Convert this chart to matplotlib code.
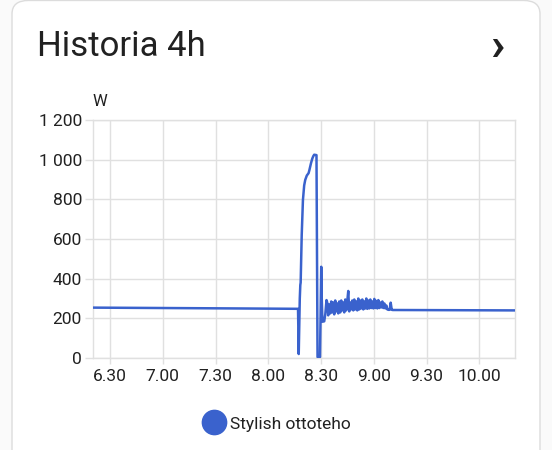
import numpy as np
import matplotlib
matplotlib.use("Agg")
import matplotlib.pyplot as plt
from matplotlib.patches import FancyBboxPatch
from matplotlib.lines import Line2D

# ---- data (time in minutes after 6:00, power in W) ----
main_t = [20.3, 60.0, 100.0, 136.9, 137.3, 137.9, 138.2, 138.4, 139.0, 139.7,
          140.4, 141.0, 141.9, 142.9, 143.3, 144.3, 145.0, 145.6, 146.1, 147.4,
          148.0, 149.4, 149.7, 150.1, 150.4, 150.8, 151.8, 152.4, 153.1]
main_w = [254, 252, 250, 248, 20, 300, 368, 380, 620, 797,
          870, 898, 920, 932, 945, 983, 1005, 1018, 1025, 1023,
          5, 5, 200, 460, 300, 183, 185, 220, 292]

noise_start = 153.5
noise_step = 0.57
noise_w = [280, 215, 270, 225, 285, 230, 280, 220, 290, 235,
           275, 225, 285, 230, 290, 240, 280, 230, 295, 240,
           285, 338, 235, 280, 245, 290, 240, 295, 245, 285,
           240, 300, 245, 290, 250, 295, 245, 285, 250, 300,
           248, 290, 250, 295, 252, 285, 250, 298, 252, 288,
           250, 292, 252, 280, 255, 285, 252, 275, 250, 265,
           245, 243]

tail_t = [189.0, 189.6, 190.2, 190.8, 260.0]
tail_w = [243, 279, 243, 242, 240]

x_ticks = [30, 60, 90, 120, 150, 180, 210, 240]
x_labels = ["6.30", "7.00", "7.30", "8.00", "8.30", "9.00", "9.30", "10.00"]
y_ticks = [0, 200, 400, 600, 800, 1000, 1200]
y_labels = ["0", "200", "400", "600", "800", "1 000", "1 200"]

title = "Historia 4h"
unit = "W"
series_name = "Stylish ottoteho"

# ---- build series ----
noise_t = noise_start + noise_step * np.arange(len(noise_w))
t = np.concatenate([main_t, noise_t, tail_t])
w = np.concatenate([main_w, noise_w, tail_w])

plt.rcParams['font.family'] = ['Roboto', 'DejaVu Sans']
LINE = '#3a62cd'
TXT = '#212121'
GRID = '#e0e0e0'

fig = plt.figure(figsize=(5.52, 4.5), dpi=100)
fig.patch.set_facecolor('#fafafa')

card = FancyBboxPatch((12 / 552, -0.1), (540 - 12) / 552, 1.1 - 0.001,
                      boxstyle="round,pad=0,rounding_size=0.03",
                      transform=fig.transFigure, facecolor='white',
                      edgecolor='#dcdcdc', linewidth=1.0, zorder=-10)
fig.patches.append(card)

fig.text(37 / 552, 1 - 46 / 450, title, fontsize=25, color=TXT,
         va='center', ha='left')
fig.text(497 / 552, 1 - 47 / 450, "\u203a", fontsize=34, color=TXT,
         va='center', ha='center', fontweight='bold')

ax = fig.add_axes([93 / 552, 92 / 450, (515 - 93) / 552, (358 - 120) / 450])
ax.set_facecolor('white')
ax.plot(t, w, color=LINE, lw=1.8, solid_joinstyle='round', zorder=3)

ax.set_xlim(20.3, 260.3)
ax.set_ylim(0, 1200)
ax.set_xticks(x_ticks)
ax.set_xticklabels(x_labels)
ax.set_yticks(y_ticks)
ax.set_yticklabels(y_labels)
ax.grid(True, color=GRID, lw=1.0)
ax.set_axisbelow(True)
for s in ax.spines.values():
    s.set_color(GRID)
    s.set_linewidth(1.0)
ax.tick_params(axis='both', colors=GRID, labelcolor=TXT, labelsize=12.5,
               length=6, width=1.0)
ax.tick_params(axis='y', pad=2)
ax.tick_params(axis='x', pad=4, length=4)

fig.text(100 / 552, 1 - 102 / 450, unit, fontsize=12, color=TXT,
         va='center', ha='center')

handle = Line2D([], [], marker='o', ls='', color=LINE, markersize=17.5)
fig.legend(handles=[handle], labels=[series_name], loc='center',
           bbox_to_anchor=(277 / 552, 1 - 424 / 450), frameon=False,
           fontsize=12.5, handletextpad=0.3, handlelength=1.2,
           labelcolor=TXT)

fig.savefig("out.png", dpi=100, facecolor=fig.get_facecolor())
